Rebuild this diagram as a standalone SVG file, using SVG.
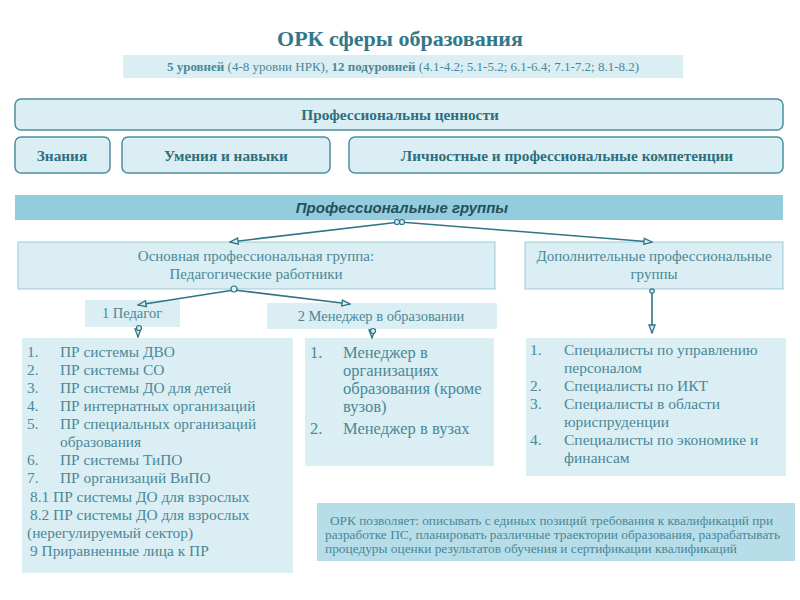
<svg xmlns="http://www.w3.org/2000/svg" width="800" height="600" viewBox="0 0 800 600">
<defs>
<style>
.t{font-family:"Liberation Serif","DejaVu Serif",serif;fill:#4a8898}
.title{font-family:"Liberation Serif",serif;font-weight:bold;font-size:22px;fill:#31788a}
.rb{fill:#daeef3;stroke:#4f8fa0;stroke-width:1.5}
.rt{font-family:"Liberation Serif",serif;font-weight:bold;font-size:15.3px;fill:#2f6e7e}
.lb{fill:#daeef3}
.lbs{fill:#daeef3;stroke:#9ccbd8;stroke-width:1}
.li{font-family:"Liberation Serif",serif;fill:#4a8898}
.cn{stroke:#2f7487;stroke-width:1.6;fill:none}
</style>
<marker id="ar" markerWidth="10" markerHeight="8" refX="9" refY="4" orient="auto" markerUnits="userSpaceOnUse">
<path d="M1,1 L9,4 L1,7 Z" fill="#daeef3" stroke="#2f7487" stroke-width="1.3"/>
</marker>
</defs>
<rect width="800" height="600" fill="#ffffff"/>

<g id="title">
<text class="title" x="400" y="46" text-anchor="middle">ОРК сферы образования</text>
</g>
<g id="levels">
<rect x="123" y="55" width="560" height="23" fill="#dbeef4"/>
<text class="t" x="403" y="71" text-anchor="middle" font-size="13"><tspan font-weight="bold">5 уровней</tspan> (4-8 уровни НРК), <tspan font-weight="bold">12 подуровней</tspan> (4.1-4.2; 5.1-5.2; 6.1-6.4; 7.1-7.2; 8.1-8.2)</text>
</g>

<g id="values">
<rect class="rb" x="15" y="99" width="768" height="31" rx="6"/>
<text class="rt" x="400" y="120" text-anchor="middle">Профессиональны ценности</text>
</g>
<g id="knowledge">
<rect class="rb" x="15" y="137" width="95" height="36" rx="6"/>
<text class="rt" x="62" y="161" text-anchor="middle">Знания</text>
</g>
<g id="skills">
<rect class="rb" x="122" y="137" width="208" height="36" rx="6"/>
<text class="rt" x="226" y="161" text-anchor="middle">Умения и навыки</text>
</g>
<g id="competences">
<rect class="rb" x="349" y="137" width="434" height="36" rx="6"/>
<text class="rt" x="567" y="161" text-anchor="middle">Личностные и профессиональные компетенции</text>
</g>

<g id="groups">
<rect x="15" y="195" width="768" height="25" fill="#93cddd"/>
<text x="402" y="213" text-anchor="middle" font-family="Liberation Sans,Arial,sans-serif" font-style="italic" font-weight="bold" font-size="15" fill="#24505c">Профессиональные группы</text>
</g>

<g id="main-group">
<rect class="lbs" x="18" y="242" width="477" height="47"/>
<text class="li" x="256" y="261" text-anchor="middle" font-size="15">Основная профессиональная группа:</text>
<text class="li" x="256" y="279" text-anchor="middle" font-size="15">Педагогические работники</text>
</g>
<g id="extra-group">
<rect class="lbs" x="525" y="242" width="258" height="47"/>
<text class="li" x="654" y="261" text-anchor="middle" font-size="15">Дополнительные профессиональные</text>
<text class="li" x="654" y="279" text-anchor="middle" font-size="15">группы</text>
</g>

<g id="pedagog">
<rect class="lb" x="85" y="300" width="95" height="27"/>
<text class="li" x="132" y="318" text-anchor="middle" font-size="14.5">1 Педагог</text>
</g>
<g id="manager">
<rect class="lb" x="267" y="303" width="230" height="26"/>
<text class="li" x="381" y="321" text-anchor="middle" font-size="14.5">2 Менеджер в образовании</text>
</g>

<g id="pedagog-list">
<rect class="lb" x="22" y="338" width="271" height="235"/>
<g class="li" font-size="15.4">
<text x="27" y="357">1.</text><text x="60" y="357">ПР системы ДВО</text>
<text x="27" y="375">2.</text><text x="60" y="375">ПР системы СО</text>
<text x="27" y="393">3.</text><text x="60" y="393">ПР системы ДО для детей</text>
<text x="27" y="411">4.</text><text x="60" y="411">ПР интернатных организаций</text>
<text x="27" y="429">5.</text><text x="60" y="429">ПР специальных организаций</text>
<text x="60" y="447">образования</text>
<text x="27" y="465">6.</text><text x="60" y="465">ПР системы ТиПО</text>
<text x="27" y="483">7.</text><text x="60" y="483">ПР организаций ВиПО</text>
<text x="30" y="502">8.1 ПР системы ДО для взрослых</text>
<text x="30" y="520">8.2 ПР системы ДО для взрослых</text>
<text x="27" y="538">(нерегулируемый сектор)</text>
<text x="30" y="556">9 Приравненные лица к ПР</text>
</g>
</g>

<g id="manager-list">
<rect class="lb" x="305" y="338" width="189" height="128"/>
<g class="li" font-size="16.5">
<text x="310" y="358">1.</text><text x="343" y="358">Менеджер в</text>
<text x="343" y="376">организациях</text>
<text x="343" y="394">образования (кроме</text>
<text x="343" y="412">вузов)</text>
<text x="310" y="434">2.</text><text x="343" y="434">Менеджер в вузах</text>
</g>
</g>

<g id="extra-list">
<rect class="lb" x="526" y="338" width="260" height="138"/>
<g class="li" font-size="15.5">
<text x="530" y="355">1.</text><text x="564" y="355">Специалисты по управлению</text>
<text x="564" y="373">персоналом</text>
<text x="530" y="391">2.</text><text x="564" y="391">Специалисты по ИКТ</text>
<text x="530" y="409">3.</text><text x="564" y="409">Специалисты в области</text>
<text x="564" y="427">юриспруденции</text>
<text x="530" y="445">4.</text><text x="564" y="445">Специалисты по экономике и</text>
<text x="564" y="463">финансам</text>
</g>
</g>

<g id="note">
<rect x="317" y="503" width="478" height="58" fill="#b7dde8"/>
<g class="li" font-size="12.5">
<text x="330" y="525" textLength="443" lengthAdjust="spacingAndGlyphs">ОРК позволяет: описывать с единых позиций требования к квалификаций при</text>
<text x="325" y="539" textLength="455" lengthAdjust="spacingAndGlyphs">разработке ПС, планировать различные траектории образования, разрабатывать</text>
<text x="325" y="553" textLength="412" lengthAdjust="spacingAndGlyphs">процедуры оценки результатов обучения и сертификации квалификаций</text>
</g>
</g>

<g id="connectors">
<path class="cn" d="M400,222 L230,242" marker-end="url(#ar)"/>
<path class="cn" d="M400,222 L652,242" marker-end="url(#ar)"/>
<path class="cn" d="M234,290 L138,305" marker-end="url(#ar)"/>
<path class="cn" d="M234,290 L350,304" marker-end="url(#ar)"/>
<path class="cn" d="M652,291 L652,333" marker-end="url(#ar)"/>
<path class="cn" d="M138,329 L138,337" marker-end="url(#ar)"/>
<path class="cn" d="M372,331 L372,338" marker-end="url(#ar)"/>
<g fill="#daeef3" stroke="#2f7487" stroke-width="1.2">
<circle cx="397" cy="222" r="2.5"/><circle cx="402" cy="222" r="2.5"/>
<circle cx="234" cy="289" r="3"/>
<circle cx="652" cy="291" r="2.2"/>
<circle cx="139" cy="328" r="2.5"/>
<circle cx="373" cy="331" r="2.5"/>
</g>
</g>
</svg>
